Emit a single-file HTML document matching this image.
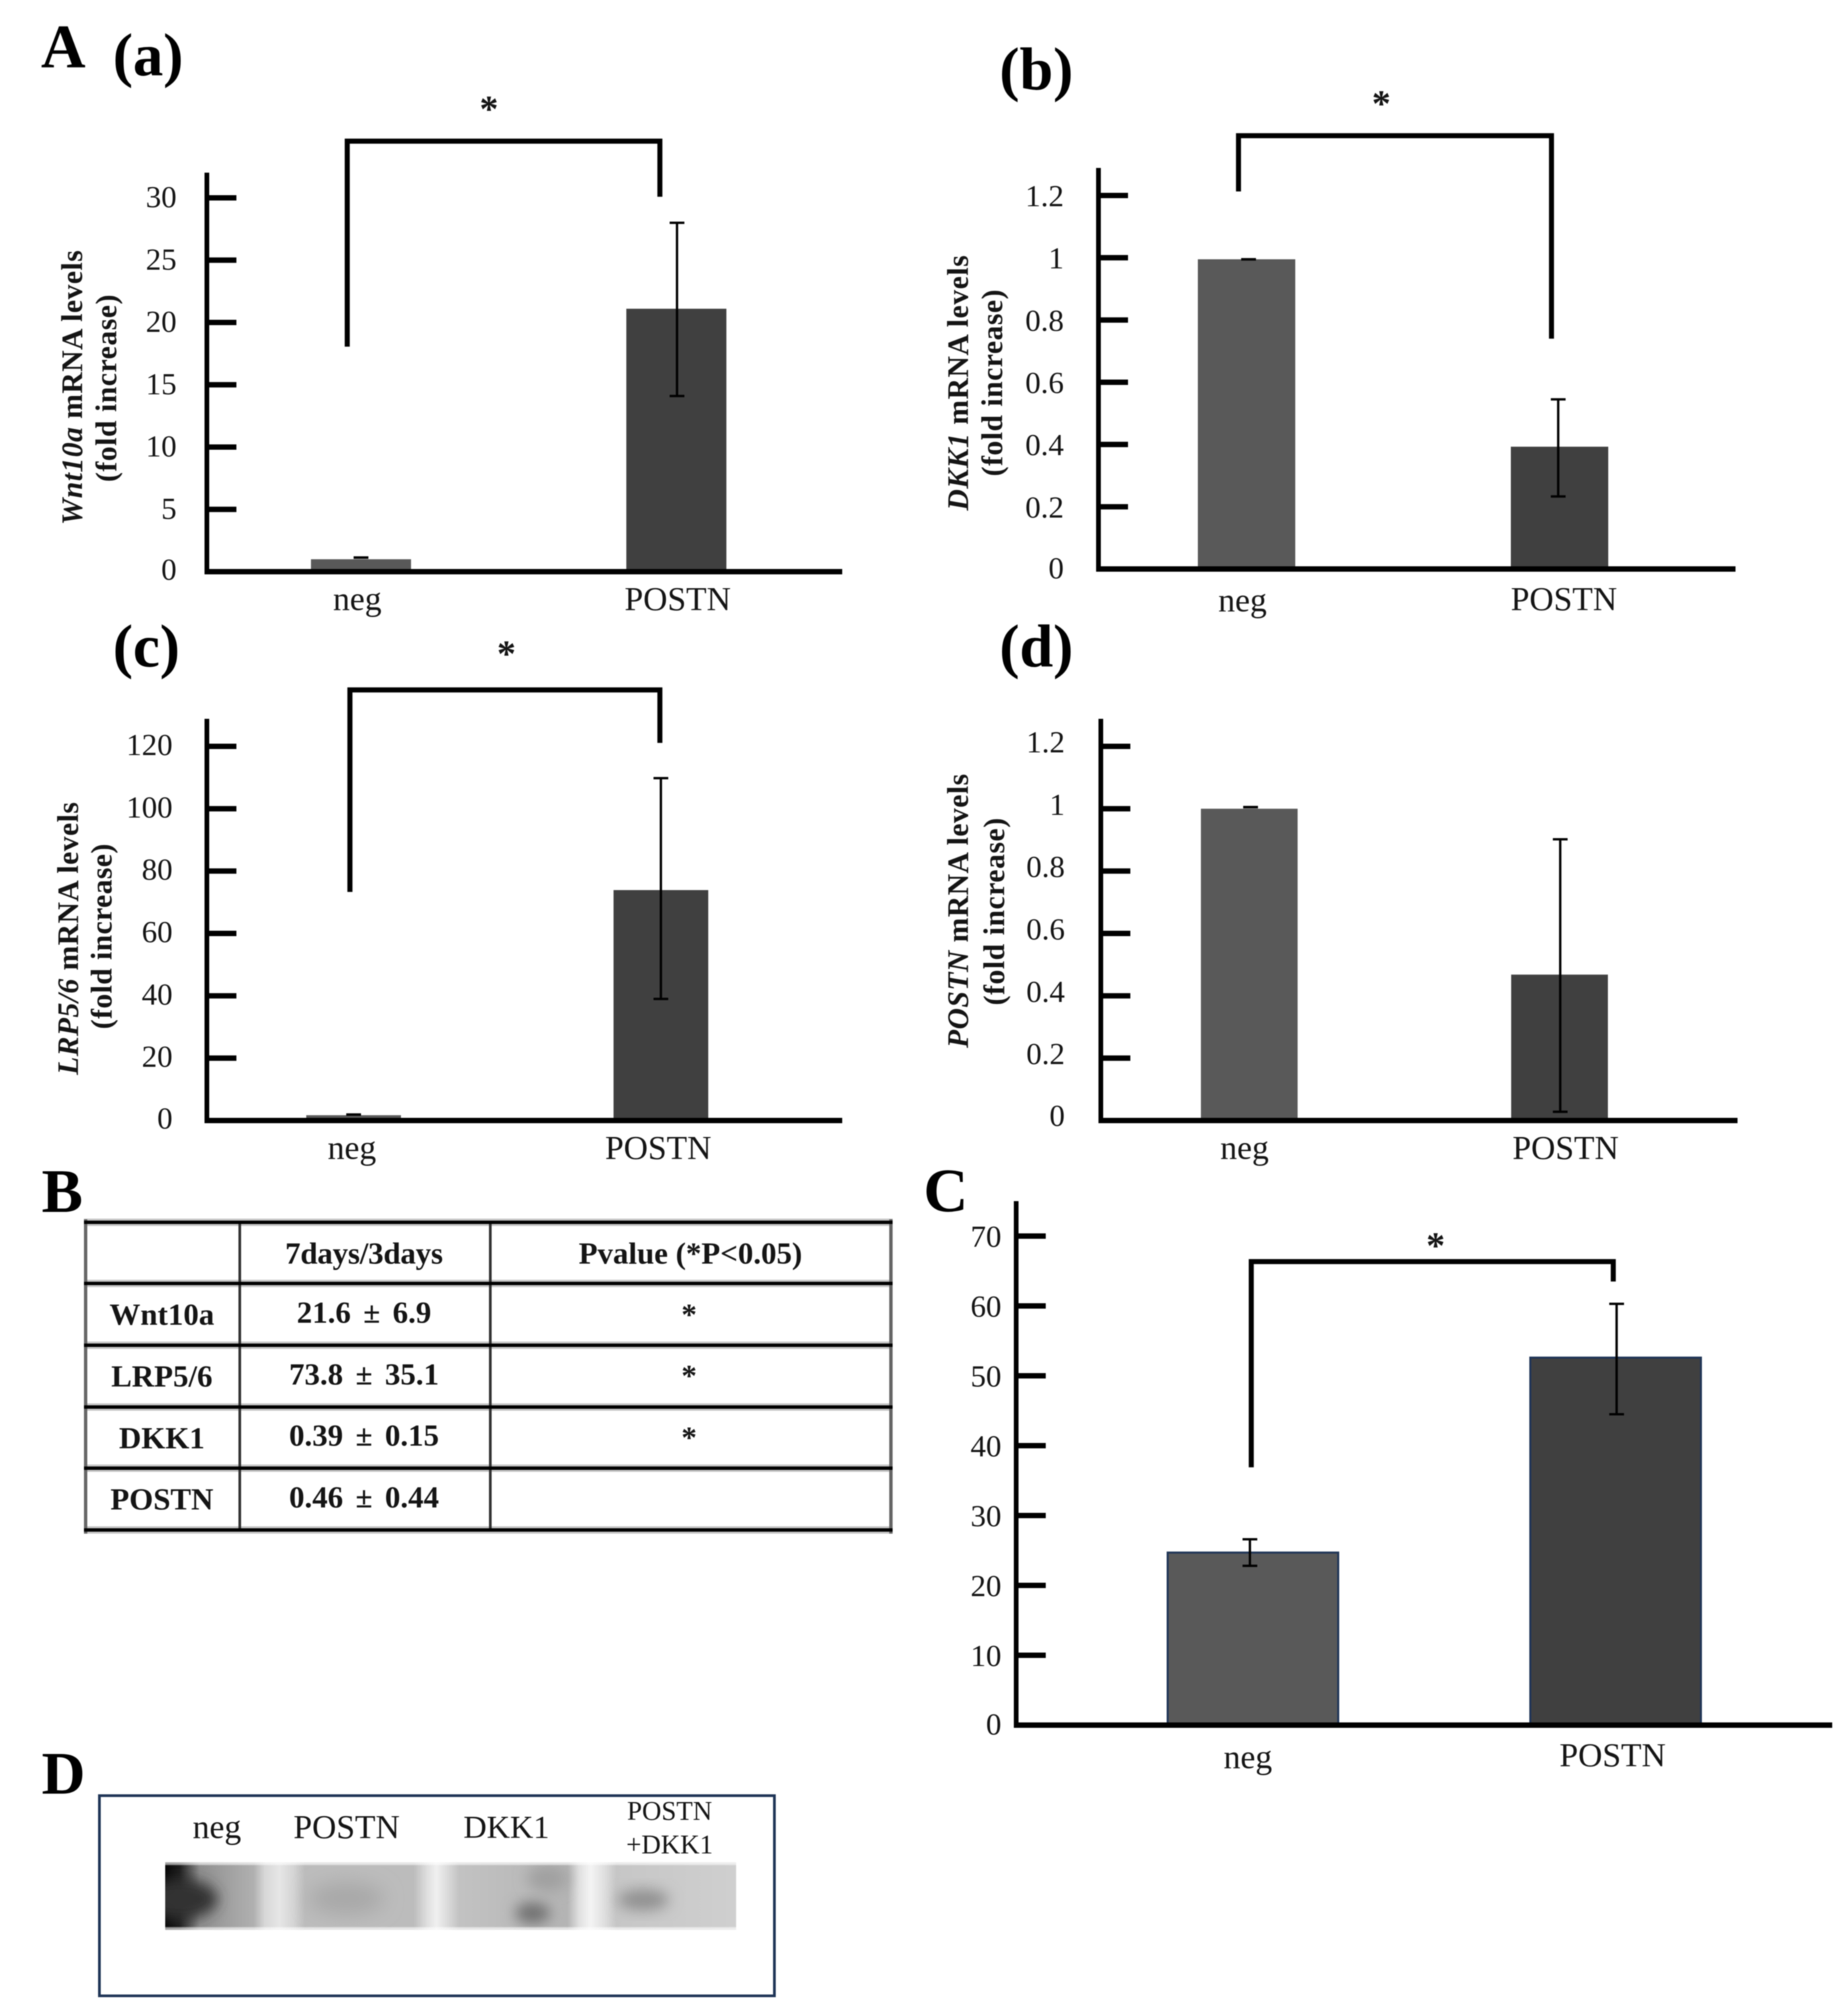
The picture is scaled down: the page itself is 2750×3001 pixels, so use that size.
<!DOCTYPE html>
<html lang="en">
<head>
<meta charset="utf-8">
<title>POSTN mRNA levels figure</title>
<style>
  html, body { margin: 0; padding: 0; background: #fff; }
  #figure { display: block; width: 2750px; height: 3001px; filter: blur(0.9px); }
  text { font-family: "Liberation Serif", serif; fill: #141414; }
  .panel-letter { font-weight: bold; font-size: 92px; fill: #000; }
  .panel-sub { font-weight: bold; font-size: 90px; fill: #000; }
  .cell { font-weight: bold; font-size: 46px; text-anchor: middle; }
  .cell-value { word-spacing: 7px; }
  .blot-label { text-anchor: middle; }
</style>
</head>
<body>
<svg id="figure" xmlns="http://www.w3.org/2000/svg" width="2750" height="3001" viewBox="0 0 2750 3001">
  <defs>
    <filter id="soft" x="-50%" y="-50%" width="200%" height="200%"><feGaussianBlur stdDeviation="14"/></filter>
    <filter id="soft-sm" x="-50%" y="-50%" width="200%" height="200%"><feGaussianBlur stdDeviation="10"/></filter>
    <linearGradient id="blot-lanes" x1="0" x2="1" y1="0" y2="0">
      <stop offset="0" stop-color="#050505"/>
      <stop offset="0.025" stop-color="#1c1c1c"/>
      <stop offset="0.06" stop-color="#8f8f8f"/>
      <stop offset="0.155" stop-color="#b0b0b0"/>
      <stop offset="0.175" stop-color="#d8d8d8"/>
      <stop offset="0.2" stop-color="#e6e6e6"/>
      <stop offset="0.225" stop-color="#d4d4d4"/>
      <stop offset="0.245" stop-color="#bcbcbc"/>
      <stop offset="0.435" stop-color="#bcbcbc"/>
      <stop offset="0.46" stop-color="#e0e0e0"/>
      <stop offset="0.475" stop-color="#f0f0f0"/>
      <stop offset="0.495" stop-color="#dadada"/>
      <stop offset="0.515" stop-color="#c2c2c2"/>
      <stop offset="0.705" stop-color="#b4b4b4"/>
      <stop offset="0.725" stop-color="#e0e0e0"/>
      <stop offset="0.745" stop-color="#f4f4f4"/>
      <stop offset="0.77" stop-color="#dedede"/>
      <stop offset="0.79" stop-color="#c6c6c6"/>
      <stop offset="1" stop-color="#cfcfcf"/>
    </linearGradient>
    <linearGradient id="blot-edge" x1="0" x2="0" y1="0" y2="1">
      <stop offset="0" stop-color="#fff" stop-opacity="0.7"/>
      <stop offset="0.035" stop-color="#fff" stop-opacity="0.55"/>
      <stop offset="0.05" stop-color="#fff" stop-opacity="0"/>
      <stop offset="0.95" stop-color="#fff" stop-opacity="0"/>
      <stop offset="0.965" stop-color="#fff" stop-opacity="0.55"/>
      <stop offset="1" stop-color="#fff" stop-opacity="0.7"/>
    </linearGradient>
    <clipPath id="blot-clip"><rect x="246" y="2772" width="850" height="101"/></clipPath>
  </defs>

  <text class="panel-letter" x="61" y="100">A</text>
  <text class="panel-sub" x="168" y="112">(a)</text>
  <text class="panel-sub" x="1488" y="133">(b)</text>
  <text class="panel-sub" x="168" y="992">(c)</text>
  <text class="panel-sub" x="1488" y="992">(d)</text>
  <text class="panel-letter" x="62" y="1804">B</text>
  <text class="panel-letter" x="1375" y="1803">C</text>
  <text class="panel-letter" x="62" y="2670" style="font-size:90px">D</text>

  <g id="charts"></g>

  <!-- Table B -->
  <g>
    <rect x="125" y="1814" width="1204" height="11" fill="#c6c6c6"/>
    <rect x="125" y="1905" width="1204" height="11" fill="#c6c6c6"/>
    <rect x="125" y="1997" width="1204" height="11" fill="#c6c6c6"/>
    <rect x="125" y="2089" width="1204" height="11" fill="#c6c6c6"/>
    <rect x="125" y="2180" width="1204" height="11" fill="#c6c6c6"/>
    <rect x="125" y="2272" width="1204" height="11" fill="#c6c6c6"/>
    <rect x="125" y="1815" width="5" height="468" fill="#666"/>
    <rect x="1324" y="1815" width="5" height="468" fill="#666"/>
    <rect x="355" y="1817" width="4" height="462" fill="#333"/>
    <rect x="728" y="1817" width="4" height="462" fill="#333"/>
    <rect x="125" y="1817" width="1204" height="5" fill="#000"/>
    <rect x="125" y="1908" width="1204" height="5" fill="#000"/>
    <rect x="125" y="2000" width="1204" height="5" fill="#000"/>
    <rect x="125" y="2092" width="1204" height="5" fill="#000"/>
    <rect x="125" y="2183" width="1204" height="5" fill="#000"/>
    <rect x="125" y="2275" width="1204" height="5" fill="#000"/>

    <text class="cell" x="542" y="1881" textLength="235">7days/3days</text>
    <text class="cell" x="1028" y="1881">Pvalue (*P&lt;0.05)</text>

    <text class="cell" x="241" y="1972">Wnt10a</text>
    <text class="cell cell-value" x="542" y="1969">21.6 ± 6.9</text>
    <text class="cell" x="1026" y="1972">*</text>

    <text class="cell" x="241" y="2064">LRP5/6</text>
    <text class="cell cell-value" x="542" y="2061">73.8 ± 35.1</text>
    <text class="cell" x="1026" y="2063">*</text>

    <text class="cell" x="241" y="2156">DKK1</text>
    <text class="cell cell-value" x="542" y="2152">0.39 ± 0.15</text>
    <text class="cell" x="1026" y="2155">*</text>

    <text class="cell" x="241" y="2247">POSTN</text>
    <text class="cell cell-value" x="542" y="2244">0.46 ± 0.44</text>
  </g>

  <!-- Blot D -->
  <g>
    <rect x="148" y="2673" width="1005" height="298" fill="#fff" stroke="#1f3557" stroke-width="4"/>
    <text class="blot-label" x="323" y="2736" font-size="50">neg</text>
    <text class="blot-label" x="516" y="2736" font-size="50">POSTN</text>
    <text class="blot-label" x="754" y="2736" font-size="48">DKK1</text>
    <text class="blot-label" x="997" y="2709" font-size="40">POSTN</text>
    <text class="blot-label" x="997" y="2759" font-size="40">+DKK1</text>
    <g clip-path="url(#blot-clip)">
      <rect x="246" y="2772" width="850" height="101" fill="url(#blot-lanes)"/>
      <ellipse cx="268" cy="2827" rx="56" ry="30" fill="#333" filter="url(#soft-sm)"/>
      <ellipse cx="516" cy="2826" rx="56" ry="24" fill="#a8a8a8" filter="url(#soft)"/>
      <ellipse cx="793" cy="2848" rx="26" ry="16" fill="#707070" filter="url(#soft-sm)"/>
      <ellipse cx="815" cy="2796" rx="30" ry="20" fill="#a0a0a0" filter="url(#soft-sm)"/>
      <ellipse cx="958" cy="2828" rx="38" ry="16" fill="#909090" filter="url(#soft-sm)"/>
      <rect x="246" y="2772" width="850" height="101" fill="url(#blot-edge)"/>
    </g>
  </g>
</svg>

<script>
// Shared categories
const categories = ['neg', 'POSTN'];

// Panel (a) Wnt10a
const aValues = [1.0, 21.1];
const aErrUpper = [1.13, 28.0];
const aErrLower = [1.13, 14.1];
const aTicks = [0, 5, 10, 15, 20, 25, 30];
const aTickLabels = ['0', '5', '10', '15', '20', '25', '30'];
const aBracket = [18.06, 34.55, 30.09];

// Panel (b) DKK1
const bValues = [0.995, 0.393];
const bErrUpper = [0.995, 0.545];
const bErrLower = [0.995, 0.233];
const bTicks = [0, 0.2, 0.4, 0.6, 0.8, 1, 1.2];
const bTickLabels = ['0', '0.2', '0.4', '0.6', '0.8', '1', '1.2'];
const bBracket = [1.213, 1.392, 0.74];

// Panel (c) LRP5/6
const cValues = [1.7, 73.9];
const cErrUpper = [1.9, 109.8];
const cErrLower = [1.9, 39.0];
const cTicks = [0, 20, 40, 60, 80, 100, 120];
const cTickLabels = ['0', '20', '40', '60', '80', '100', '120'];
const cBracket = [73.3, 138.1, 121.1];

// Panel (d) POSTN
const dValues = [1.0, 0.468];
const dErrUpper = [1.005, 0.902];
const dErrLower = [1.005, 0.028];
const dTicks = [0, 0.2, 0.4, 0.6, 0.8, 1, 1.2];
const dTickLabels = ['0', '0.2', '0.4', '0.6', '0.8', '1', '1.2'];

// Panel C
const eValues = [24.7, 52.6];
const eErrUpper = [26.6, 60.3];
const eErrLower = [22.8, 44.5];
const eTicks = [0, 10, 20, 30, 40, 50, 60, 70];
const eTickLabels = ['0', '10', '20', '30', '40', '50', '60', '70'];
const eBracket = [36.9, 66.35, 63.5];

const barColors = ['#595959', '#404040'];
const SVG_NS = 'http://www.w3.org/2000/svg';
const root = document.getElementById('charts');

function mk(tag, attrs, parent) {
  const el = document.createElementNS(SVG_NS, tag);
  for (const k in attrs) el.setAttribute(k, attrs[k]);
  parent.appendChild(el);
  return el;
}

function drawChart(p) {
  const L = p.layout;
  const g = mk('g', {}, root);
  
  

  const maxTick = p.ticks[p.ticks.length - 1];
  const yScale = v => L.y0 - v * (L.y0 - L.yMaxTick) / maxTick;
  const xScale = i => L.cx0 + i * L.step;

  // bars
  p.values.forEach((v, i) => {
    const bar = mk('rect', {
      x: xScale(i) - L.barW / 2, y: yScale(v), width: L.barW, height: L.y0 - yScale(v),
      fill: barColors[i], stroke: L.barStroke || 'none', 'stroke-width': L.barStroke ? 3 : 0
    }, g);
    
    
  });

  // error bars
  p.values.forEach((v, i) => {
    const ex = xScale(i) + L.errDx[i];
    const eg = mk('g', { stroke: '#000', 'stroke-width': 3.5, fill: 'none' }, g);
    
    
    const top = yScale(p.errUpper[i]);
    const bot = yScale(p.errLower[i]);
    mk('line', { x1: ex, x2: ex, y1: top, y2: bot }, eg);
    mk('line', { x1: ex - 11, x2: ex + 11, y1: top, y2: top }, eg);
    mk('line', { x1: ex - 11, x2: ex + 11, y1: bot, y2: bot }, eg);
  });

  // axes
  const yAxis = mk('line', { x1: L.axisX, x2: L.axisX, y1: L.axisTop, y2: L.y0 + 4, stroke: '#000', 'stroke-width': 7 }, g);
  
  
  const xAxis = mk('line', { x1: L.axisX - 3, x2: L.axisRight, y1: L.y0, y2: L.y0, stroke: '#000', 'stroke-width': 8 }, g);
  
  

  // ticks
  p.ticks.forEach((t, i) => {
    const ty = yScale(t);
    if (t !== 0) {
      const tick = mk('line', { x1: L.axisX, x2: L.axisX + 44, y1: ty, y2: ty, stroke: '#000', 'stroke-width': 8 }, g);
      
      
    }
    const label = mk('text', { x: L.tickRight, y: ty + (t === 0 ? L.zeroDy : L.labelDy), 'text-anchor': 'end', 'font-size': 46 }, g);
    label.textContent = p.tickLabels[i];
    
    
  });

  // category labels
  categories.forEach((c, i) => {
    const label = mk('text', { x: L.catX[i], y: L.catY[i], 'text-anchor': 'middle', 'font-size': 50 }, g);
    label.textContent = c;
    
    
  });

  // significance bracket
  if (p.bracket) {
    const yLeft = yScale(p.bracket[0]);
    const yTop = yScale(p.bracket[1]);
    const yRight = yScale(p.bracket[2]);
    const br = mk('path', {
      d: 'M' + L.brX[0] + ' ' + yLeft + 'V' + yTop + 'H' + L.brX[1] + 'V' + yRight,
      fill: 'none', stroke: '#000', 'stroke-width': 7.5
    }, g);
    
    
    const star = mk('text', { x: L.star[0], y: L.star[1] + 26, 'text-anchor': 'middle', 'font-size': 56, 'font-weight': 'bold' }, g);
    star.textContent = '*';
    
    
  }

  // y-axis title
  if (p.gene) {
    const T = L.title;
    const t1 = mk('text', {
      transform: 'translate(' + T.x1 + ' ' + T.cy1 + ') rotate(-90)',
      'text-anchor': 'middle', 'font-size': 44, 'font-weight': 'bold', textLength: T.len1
    }, g);
    
    
    const it = mk('tspan', { 'font-style': 'italic' }, t1);
    it.textContent = p.gene;
    const rest = mk('tspan', {}, t1);
    rest.textContent = ' mRNA levels';
    const t2 = mk('text', {
      transform: 'translate(' + T.x2 + ' ' + T.cy2 + ') rotate(-90)',
      'text-anchor': 'middle', 'font-size': 44, 'font-weight': 'bold', textLength: T.len2
    }, g);
    t2.textContent = '(fold increase)';
    
    
  }
}

drawChart({
  id: 'a', gene: 'Wnt10a', values: aValues, errUpper: aErrUpper, errLower: aErrLower,
  ticks: aTicks, tickLabels: aTickLabels, bracket: aBracket,
  layout: {
    axisX: 308, axisTop: 257, axisRight: 1254, y0: 851, yMaxTick: 294.5,
    cx0: 537.5, step: 469.5, barW: 149, errDx: [0, 1], tickRight: 263, labelDy: 14, zeroDy: 12,
    catX: [532, 1009], catY: [908, 908], brX: [517, 982.5], star: [728, 155],
    title: { x1: 122, cy1: 577, len1: 409, x2: 173, cy2: 578, len2: 279 }
  }
});
drawChart({
  id: 'b', gene: 'DKK1', values: bValues, errUpper: bErrUpper, errLower: bErrLower,
  ticks: bTicks, tickLabels: bTickLabels, bracket: bBracket,
  layout: {
    axisX: 1635.5, axisTop: 250, axisRight: 2584, y0: 847, yMaxTick: 291,
    cx0: 1856, step: 466, barW: 145, errDx: [3, -2], tickRight: 1584, labelDy: 16, zeroDy: 14,
    catX: [1850, 2328.5], catY: [910, 908], brX: [1844, 2310], star: [2056.6, 147],
    title: { x1: 1441, cy1: 570, len1: 380, x2: 1492, cy2: 570, len2: 278 }
  }
});
drawChart({
  id: 'c', gene: 'LRP5/6', values: cValues, errUpper: cErrUpper, errLower: cErrLower,
  ticks: cTicks, tickLabels: cTickLabels, bracket: cBracket,
  layout: {
    axisX: 308, axisTop: 1070, axisRight: 1254, y0: 1668, yMaxTick: 1111,
    cx0: 526.5, step: 457.5, barW: 141, errDx: [0, 0], tickRight: 257, labelDy: 13, zeroDy: 12,
    catX: [524, 980], catY: [1725, 1725], brX: [521, 982.5], star: [754, 966],
    title: { x1: 116, cy1: 1397, len1: 406, x2: 166, cy2: 1394, len2: 276 }
  }
});
drawChart({
  id: 'd', gene: 'POSTN', values: dValues, errUpper: dErrUpper, errLower: dErrLower,
  ticks: dTicks, tickLabels: dTickLabels, bracket: null,
  layout: {
    axisX: 1639, axisTop: 1070, axisRight: 2587, y0: 1668, yMaxTick: 1111,
    cx0: 1860, step: 462, barW: 144, errDx: [2, 1], tickRight: 1585.5, labelDy: 9, zeroDy: 8,
    catX: [1853, 2331], catY: [1725, 1725], title: { x1: 1441, cy1: 1356, len1: 408, x2: 1495, cy2: 1357, len2: 279 }
  }
});
drawChart({
  id: 'main-c', gene: null, values: eValues, errUpper: eErrUpper, errLower: eErrLower,
  ticks: eTicks, tickLabels: eTickLabels, bracket: eBracket,
  layout: {
    axisX: 1513, axisTop: 1788, axisRight: 2728, y0: 2568, yMaxTick: 1840,
    cx0: 1865.5, step: 540, barW: 254, barStroke: '#1f3557', errDx: [-4.5, 1.5], tickRight: 1491, labelDy: 16, zeroDy: 14,
    catX: [1858, 2401], catY: [2632, 2629], brX: [1863, 2402], star: [2137.5, 1847]
  }
});
</script>
</body>
</html>
